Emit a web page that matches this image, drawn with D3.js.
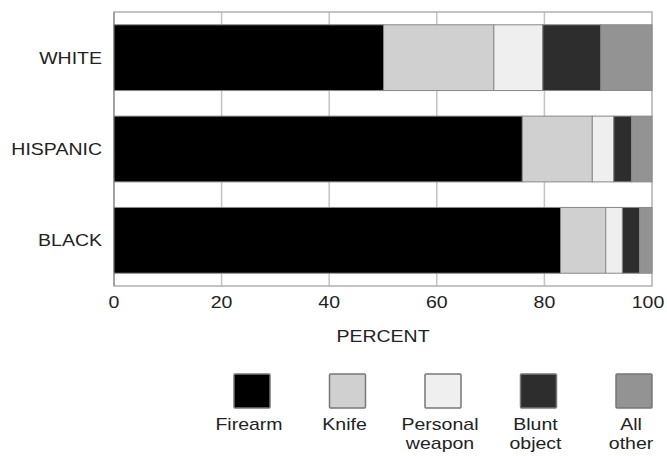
<!DOCTYPE html>
<html><head><meta charset="utf-8">
<script src="https://cdn.jsdelivr.net/npm/d3@7"></script>
<style>body{margin:0;background:#fff}svg{display:block}text{font-family:"Liberation Sans",Arial,Helvetica,sans-serif;fill:#222}</style>
</head><body>
<svg id="c" width="667" height="456"></svg>
<script>
const groups = ["WHITE", "HISPANIC", "BLACK"];
const weapons = ["Firearm", "Knife", "Personal weapon", "Blunt object", "All other"];
const legendLines = [["Firearm"], ["Knife"], ["Personal", "weapon"], ["Blunt", "object"], ["All", "other"]];
const firearm = [50.1, 75.9, 83.0];
const knife = [20.5, 13.0, 8.4];
const personal = [9.1, 4.0, 3.1];
const blunt = [10.8, 3.3, 3.2];
const other = [9.5, 3.8, 2.3];
const colors = ["#000000", "#d0d0d0", "#efefef", "#2d2d2d", "#939393"];
const ticks = [0, 20, 40, 60, 80, 100];
const axisTitle = "PERCENT";

(function () {
const series = [firearm, knife, personal, blunt, other];
const rows = groups.map((g, i) => {
  const r = {group: g};
  weapons.forEach((w, j) => r[w] = series[j][i]);
  return r;
});
const stacked = d3.stack().keys(weapons)(rows);

const svg = d3.select("#c");
const pL = 114, pR = 652, pT = 12, pB = 286;
const x = d3.scaleLinear().domain([0, 100]).range([pL, pR]);
const y = d3.scaleBand().domain(groups).range([pT, pB]).paddingInner(0.28).paddingOuter(0.14);
const SX = 1.22, FS = 16;

function stext(sel, tx, ty, str, anchor) {
  sel.append("text")
    .attr("transform", `translate(${tx},${ty}) scale(${SX},1)`)
    .attr("text-anchor", anchor)
    .attr("font-size", FS)
    .text(str);
}

svg.append("g").selectAll("line").data(ticks.slice(1, -1)).join("line")
  .attr("x1", d => x(d)).attr("x2", d => x(d))
  .attr("y1", pT).attr("y2", pB)
  .attr("stroke", "#c4c4c4").attr("stroke-width", 1.5);

svg.append("rect").attr("x", pL).attr("y", pT).attr("width", pR - pL).attr("height", pB - pT)
  .attr("fill", "none").attr("stroke", "#b0b0b0").attr("stroke-width", 1.5);
svg.append("line").attr("x1", pL).attr("x2", pL).attr("y1", pT).attr("y2", pB)
  .attr("stroke", "#999").attr("stroke-width", 1.5);

svg.append("g").selectAll("g").data(stacked).join("g")
  .attr("fill", (d, i) => colors[i])
  .selectAll("rect").data(d => d).join("rect")
  .attr("x", d => x(d[0])).attr("width", d => x(d[1]) - x(d[0]))
  .attr("y", d => y(d.data.group)).attr("height", y.bandwidth())
  .attr("stroke", "#888").attr("stroke-width", 1);

groups.forEach(g => stext(svg, 102, y(g) + y.bandwidth() / 2 + 6, g, "end"));

ticks.forEach((t, i) => stext(svg, x(t) - (i === ticks.length - 1 ? 4 : 0), 308, String(t), "middle"));
stext(svg, (pL + pR) / 2, 342, axisTitle, "middle");

const lx = d3.scalePoint().domain(weapons).range([252, 634]);
weapons.forEach((w, i) => {
  const cx = lx(w);
  svg.append("rect").attr("x", cx - 18).attr("y", 374).attr("width", 36).attr("height", 34)
    .attr("fill", colors[i]).attr("stroke", "#777").attr("stroke-width", 1.5).attr("rx", 1);
  legendLines[i].forEach((ln, k) => stext(svg, cx - 3, 430 + k * 19, ln, "middle"));
});
})();
</script>
</body></html>
